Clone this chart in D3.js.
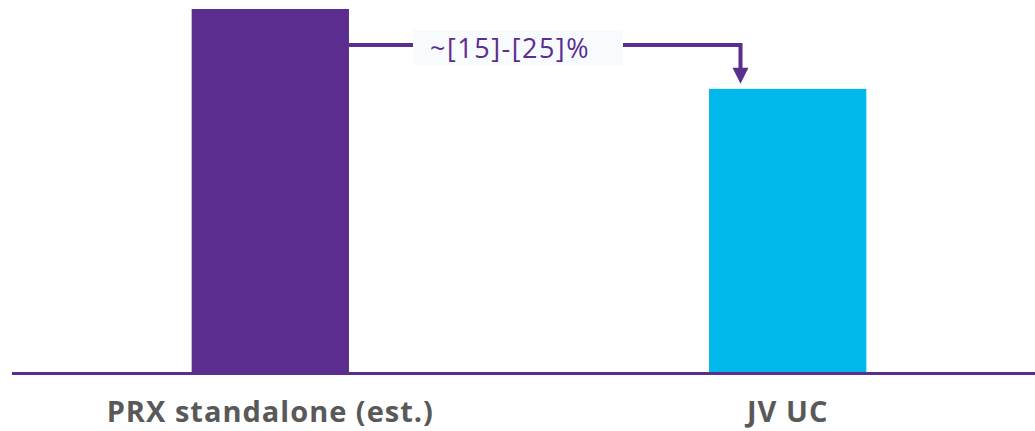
<!DOCTYPE html>
<html><head><meta charset="utf-8">
<script src="https://cdn.jsdelivr.net/npm/d3@7"></script>
<style>body{margin:0;background:#fff;}svg{display:block;}</style>
</head><body>
<svg id="c" width="1035" height="431"></svg>
<script>
const categories = ["PRX standalone (est.)", "JV UC"];
const values = [100, 78];
const colors = ["#5b2d8e", "#00b8ec"];
const annotationText = "~[15]-[25]%";

const svg = d3.select("#c");
const W = 1035, H = 431;
const baseY = 372, topY = 9;
const x = d3.scaleBand().domain(categories).range([23, 1035]).paddingInner(0.696).paddingOuter(0.326);
const y = d3.scaleLinear().domain([0, 100]).range([baseY, topY]);

svg.selectAll("rect.bar").data(categories).join("rect")
  .attr("class", "bar")
  .attr("x", d => x(d)).attr("width", x.bandwidth())
  .attr("y", (d, i) => y(values[i])).attr("height", (d, i) => baseY - y(values[i]))
  .attr("fill", (d, i) => colors[i]);

// axis line
svg.append("line").attr("x1", 12).attr("x2", W).attr("y1", baseY + 1.5).attr("y2", baseY + 1.5)
  .attr("stroke", "#5b2d8e").attr("stroke-width", 3);

// category labels
svg.selectAll("text.cat").data(categories).join("text")
  .attr("class", "cat")
  .attr("x", d => x(d) + x.bandwidth() / 2).attr("y", 422)
  .attr("text-anchor", "middle")
  .attr("font-family", "Open Sans, sans-serif").attr("font-weight", 700)
  .attr("font-size", 29).attr("letter-spacing", 1).attr("fill", "#595959")
  .text(d => d);

// annotation connector
const x1 = x(categories[0]) + x.bandwidth();
const x2 = x(categories[1]) + x.bandwidth() / 5;
const ly = 45;
const arrowTip = y(values[1]) - 5;
svg.append("path")
  .attr("d", `M${x1},${ly} H${x2} V${arrowTip - 14}`)
  .attr("fill", "none").attr("stroke", "#5b2d8e").attr("stroke-width", 4);
svg.append("path")
  .attr("d", `M${x2 - 8},${arrowTip - 16} L${x2 + 8},${arrowTip - 16} L${x2},${arrowTip} Z`)
  .attr("fill", "#5b2d8e");

svg.append("rect").attr("x", 413).attr("y", 30).attr("width", 210).attr("height", 35)
  .attr("fill", "#f7fbfe");
svg.append("text").attr("x", 510).attr("y", 58)
  .attr("text-anchor", "middle")
  .attr("font-family", "Open Sans, sans-serif").attr("font-size", 27).attr("letter-spacing", 1.5)
  .attr("fill", "#5b2d8e").text(annotationText);
</script>
</body></html>
